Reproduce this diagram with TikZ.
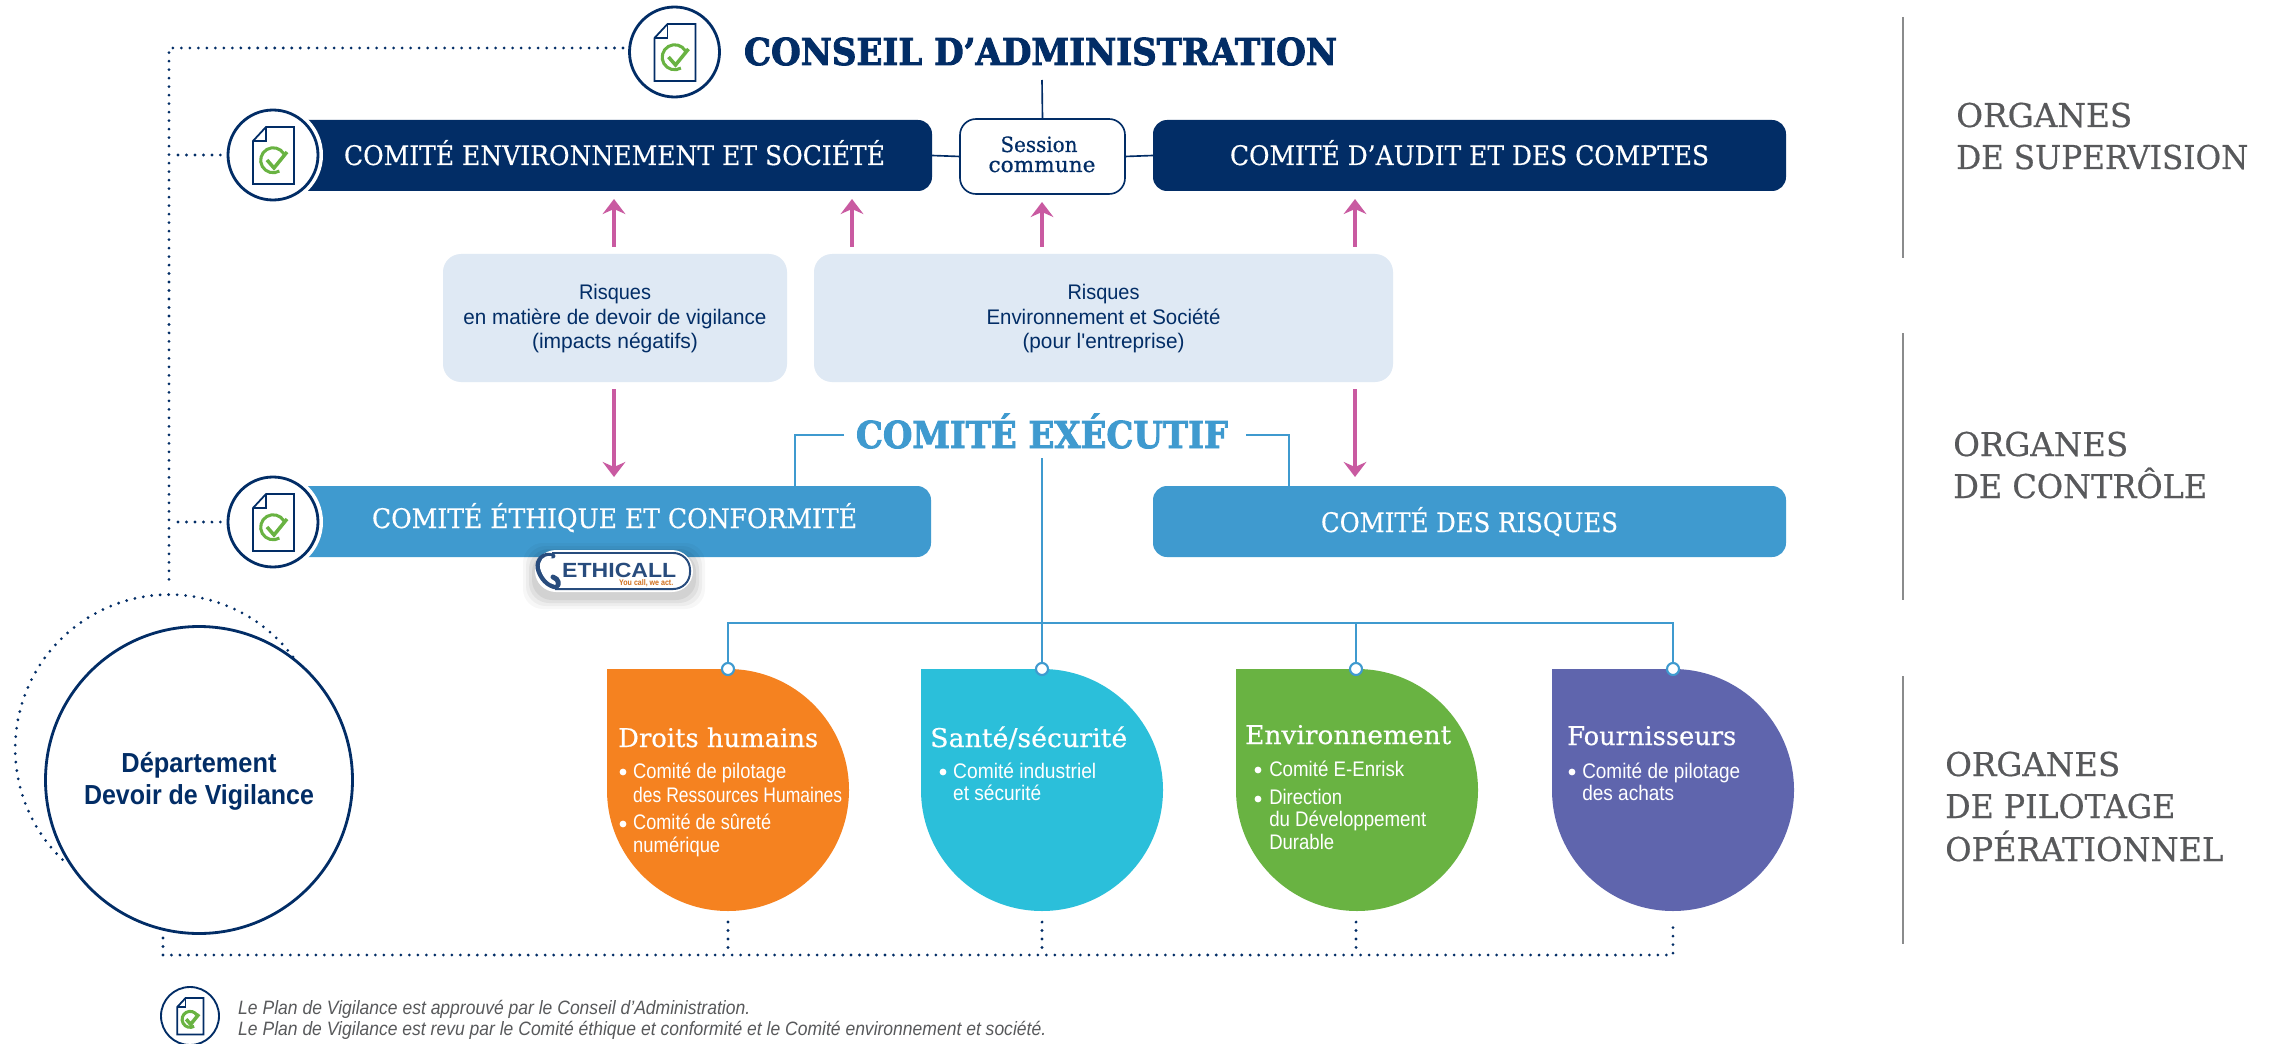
\documentclass[tikz,border=0pt]{standalone}
\usepackage{fontspec}
\usepackage{graphicx}
\usetikzlibrary{arrows.meta}
\newfontfamily\slab[FakeBold=0.5]{DejaVu Serif}
\newfontfamily\slabB[BoldFeatures={FakeBold=2.5}]{DejaVu Serif}
\newfontfamily\msans{Liberation Sans}
\newdimen\pxu \pxu=0.03cm
\newcommand\fit[2]{\resizebox{#1\pxu}{\height}{#2}}
\newcommand\sz[1]{\fontsize{#1}{#1}\selectfont}
\definecolor{navy}{HTML}{022D66}
\definecolor{midblue}{HTML}{3F9ACF}
\definecolor{lightb}{HTML}{DFE9F4}
\definecolor{pinkc}{HTML}{C95AA1}
\definecolor{greyt}{HTML}{58595B}
\definecolor{checkg}{HTML}{69B342}
\definecolor{orangec}{HTML}{F58220}
\definecolor{cyanc}{HTML}{2BBFDA}
\definecolor{purplec}{HTML}{5F65AD}
\tikzset{
  dotl/.style={navy,line width=2.6pt,line cap=round,dash pattern=on 0pt off 7.25pt},
  bluel/.style={midblue,line width=1.3pt},
  navyl/.style={navy,line width=1.4pt},
  pinkar/.style={pinkc,line width=2.6pt,-{Stealth[length=0.45cm,width=0.68cm,inset=0.15cm]},shorten <=0.21cm,shorten >=0.24cm},
  pinkdn/.style={pinkc,line width=2.6pt,-{Stealth[length=0.45cm,width=0.68cm,inset=0.15cm]},shorten <=0.21cm,shorten >=0.27cm},
  barbox/.style={rectangle,rounded corners=14\pxu,inner sep=0,outer sep=0,minimum width=#1\pxu,minimum height=71\pxu},
  lightbox/.style={rectangle,rounded corners=18\pxu,fill=lightb,inner sep=0,outer sep=0,minimum height=128\pxu,minimum width=#1\pxu},
  bart/.style={anchor=base,inner sep=0,text=white,font=\slab\sz{23}},
  rlab/.style={anchor=base west,inner sep=0,text=greyt,font=\slab\sz{28}},
  boxt/.style={anchor=base,inner sep=0,text=navy,font=\msans\sz{18}},
  sesst/.style={anchor=base,inner sep=0,text=navy,font=\slab\sz{18}},
  droph/.style={anchor=base west,inner sep=0,text=white,font=\slab\sz{22}},
  dropt/.style={anchor=base west,inner sep=0,text=white,font=\msans\sz{18}},
  ring/.style={circle,fill=white,inner sep=0,outer sep=0,minimum size=100\pxu},
  iconc/.style={circle,fill=white,draw=navy,line width=2.4pt,inner sep=0,outer sep=0,minimum size=90\pxu},
  dropdot/.style={circle,fill=white,draw=midblue,line width=1.8pt,inner sep=0,outer sep=0,minimum size=12\pxu},
  sep/.style={greyt!70,line width=1.2pt},
  docicon/.pic={
    \draw[navy,line width=1.5pt,fill=white,line join=miter] (-20,-14)--(-7,-28)--(21,-28)--(21,29)--(-20,29)--cycle;
    \draw[navy,line width=1.5pt] (-7,-28)--(-7,-14)--(-20,-14);
    \draw[checkg,line width=2.6pt] (11,-1) arc (-30:-300:12.5) ;
    \draw[checkg,line width=3pt] (-6,5)--(1,13)--(14,-3);
  }
}
\begin{document}
\begin{tikzpicture}[x=0.03cm,y=-0.03cm]
\useasboundingbox (0,0) rectangle (2271,1044);
\fill[white] (0,0) rectangle (2271,1044);

% bars and boxes
\node[barbox=659,fill=navy] (barE) at (602.5,155.5) {};
\node[barbox=633,fill=navy] (barA) at (1469.5,155.5) {};
\node[rectangle,rounded corners=16\pxu,draw=navy,line width=1.4pt,fill=white,minimum width=165\pxu,minimum height=75\pxu,inner sep=0,outer sep=0] (sess) at (1042.5,156.5) {};
\node[barbox=658,fill=midblue] (barC) at (602,521.5) {};
\node[barbox=633,fill=midblue] (barR) at (1469.5,521.5) {};
\node[lightbox=344] (risk1) at (615,318) {};
\node[lightbox=579] (risk2) at (1103.5,318) {};

% titles
\node[anchor=base,inner sep=0,text=navy,font=\slabB\bfseries\sz{31.6}] (conseil) at (1040.5,65) {\fit{593}{CONSEIL D’ADMINISTRATION}};
\node[anchor=base,inner sep=0,text=midblue,font=\slabB\bfseries\sz{31.6}] (cexec) at (1042,448) {\fit{372}{COMITÉ EXÉCUTIF}};
\node[bart] (tE) at (614.5,165) {\fit{541}{COMITÉ ENVIRONNEMENT ET SOCIÉTÉ}};
\node[bart] (tA) at (1469.5,165) {\fit{479}{COMITÉ D’AUDIT ET DES COMPTES}};
\node[bart] (tC) at (614.5,528) {\fit{485}{COMITÉ ÉTHIQUE ET CONFORMITÉ}};
\node[bart] (tR) at (1469.5,532) {\fit{297}{COMITÉ DES RISQUES}};
\node[sesst] (s1) at (1039,152) {\fit{77}{Session}};
\node[sesst] (s2) at (1042,172) {\fit{107}{commune}};

% light box texts
\node[boxt] (r1a) at (615,300) {\fit{72}{Risques}};
\node[boxt] (r1b) at (615,324) {\fit{303}{en matière de devoir de vigilance}};
\node[boxt] (r1c) at (615,348) {\fit{166}{(impacts négatifs)}};
\node[boxt] (r2a) at (1103.5,300) {\fit{72}{Risques}};
\node[boxt] (r2b) at (1103.5,324) {\fit{234}{Environnement et Société}};
\node[boxt] (r2c) at (1103.5,348) {\fit{162}{(pour l'entreprise)}};

% solid connectors
\coordinate (cTop) at (1042,80);
\draw[navyl] (cTop) -- (sess.north);
\draw[navyl] (barE.east) -- (sess.west);
\draw[navyl] (sess.east) -- (barA.west);

% pink arrows
\coordinate (a1) at (614,254);
\coordinate (a2) at (852,254);
\coordinate (a3) at (1042,254);
\coordinate (a4) at (1355,254);
\draw[pinkar] (a1) -- (a1 |- barE.south);
\draw[pinkar] (a2) -- (a2 |- barE.south);
\draw[pinkar] (a3) -- (a3 |- sess.south);
\draw[pinkar] (a4) -- (a4 |- barA.south);
\coordinate (b1) at (614,382);
\coordinate (b4) at (1355,382);
\draw[pinkdn] (b1) -- (b1 |- barC.north);
\draw[pinkdn] (b4) -- (b4 |- barR.north);

% dept circle and dotted lines
\coordinate (corner) at (169,48);
\coordinate (vend) at (169,583);
\draw[dotl] (293,657) arc (-36.5:-228.7:154);
\node[circle,draw=navy,line width=2.4pt,fill=white,minimum size=307\pxu,inner sep=0,outer sep=0] (dept) at (199,780) {};
\node[anchor=base,inner sep=0,text=navy,font=\msans\bfseries\sz{23.5}] (d1) at (199,772) {\fit{155}{Département}};
\node[anchor=base,inner sep=0,text=navy,font=\msans\bfseries\sz{23.5}] (d2) at (199,804) {\fit{230}{Devoir de Vigilance}};

% icons
\node[ring] (r1) at (273,155) {};
\node[ring] (r2) at (273,522) {};
\node[iconc] (icC) at (674.5,52) {};
\node[iconc] (icE) at (273,155) {};
\node[iconc] (icK) at (273,522) {};
\pic at (674.5,52) {docicon};
\pic at (273,155) {docicon};
\pic at (273,522) {docicon};

\coordinate (c1) at (178,155);
\coordinate (c2) at (178,522);
\coordinate (cc) at (623,48);
\draw[dotl] (cc) -- (corner) -- (vend);
\draw[dotl] (c1) -- ([xshift=-0.18cm]icE.west);
\draw[dotl] (c2) -- ([xshift=-0.18cm]icK.west);

% Ethicall
\foreach \g/\o in {12/0.03,9/0.04,6/0.05,3/0.06}{
  \fill[black,opacity=\o,rounded corners=0.6cm] (535-\g,550+5-\g) rectangle (693+\g,592+5+\g);
}
\node[rectangle,rounded corners=21\pxu,fill=white,inner sep=0,outer sep=0,minimum width=158\pxu,minimum height=42\pxu] (eth) at (614,571) {};
\draw[navy!85,line width=1.7pt,rounded corners=0.5cm] (552,553) -- (690,553) -- (690,589) -- (555,589);
\draw[navy!85,line width=4.2pt,line cap=round,line join=round] (553,556) .. controls (543,553) and (537,560) .. (538,568) .. controls (540,578) and (548,586) .. (556,587) .. controls (560,585) and (559,579) .. (553,577);
\draw[white,line width=1.5pt,line cap=round] (551,557) .. controls (544,556) and (540,561) .. (541,568) .. controls (543,576) and (549,583) .. (555,584);
\node[anchor=base west,inner sep=0,text=navy!85,font=\msans\bfseries\sz{17.5}] (ethT) at (562,577) {\fit{114}{ETHICALL}};
\node[anchor=base west,inner sep=0,text=orangec!85!black,font=\msans\bfseries\sz{7}] (ethS) at (619,585) {\fit{54}{You call, we act.}};

% drops
\newcommand\dropshape[2]{\fill[#2] (#1-121,669) -- (#1,669) arc (-90:180:121) -- cycle;}
\dropshape{728}{orangec}
\dropshape{1042}{cyanc}
\dropshape{1357}{checkg}
\dropshape{1673}{purplec}
\node[dropdot] (dot1) at (728,669) {};
\node[dropdot] (dot2) at (1042,669) {};
\node[dropdot] (dot3) at (1356,669) {};
\node[dropdot] (dot4) at (1673,669) {};

% executive lines
\coordinate (eL) at (844,435);
\coordinate (eM) at (795,435);
\coordinate (eR) at (1246,435);
\coordinate (eN) at (1289,435);
\draw[bluel] (eL) -- (eM) -- (eM |- barC.north);
\draw[bluel] (eR) -- (eN) -- (eN |- barR.north);
\coordinate (bus1) at (728,623);
\coordinate (bus4) at (1673,623);
\coordinate (eS) at (1042,458);
\draw[bluel] (eS) -- (dot2.north);
\draw[bluel] (dot1.north) -- (bus1) -- (bus4) -- (dot4.north);
\draw[bluel] (dot3 |- bus1) -- (dot3.north);

% drop text
\node[droph] (h1) at (618,747) {\fit{200}{Droits humains}};
\node[droph] (h2) at (930,747) {\fit{197}{Santé/sécurité}};
\node[droph] (h3) at (1245,744) {\fit{206}{Environnement}};
\node[droph] (h4) at (1567,745) {\fit{169}{Fournisseurs}};
\node[dropt] (t1a) at (633,778) {\fit{153}{Comité de pilotage}};
\node[dropt] (t1b) at (633,802) {\fit{209}{des Ressources Humaines}};
\node[dropt] (t1c) at (633,829) {\fit{138}{Comité de sûreté}};
\node[dropt] (t1d) at (633,852) {\fit{87}{numérique}};
\node[dropt] (t2a) at (953,778) {\fit{143}{Comité industriel}};
\node[dropt] (t2b) at (953,800) {\fit{88}{et sécurité}};
\node[dropt] (t3a) at (1269,776) {\fit{135}{Comité E-Enrisk}};
\node[dropt] (t3b) at (1269,804) {\fit{73}{Direction}};
\node[dropt] (t3c) at (1269,826) {\fit{157}{du Développement}};
\node[dropt] (t3d) at (1269,849) {\fit{65}{Durable}};
\node[dropt] (t4a) at (1582,778) {\fit{158}{Comité de pilotage}};
\node[dropt] (t4b) at (1582,800) {\fit{92}{des achats}};
\foreach \bx/\by in {623/772,623/824,943/772,1258/770,1258/799,1572/772}{
  \fill[white] (\bx,\by) circle (3.4);
}

% bottom dotted
\coordinate (bl) at (163,955);
\coordinate (br) at (1673,955);
\coordinate (bt) at (163,938);
\coordinate (bz) at (1673,922);
\draw[dotl] (bt) -- (bl) -- (br) -- (bz);
\foreach \vx in {728,1042,1356}{
  \draw[dotl] (\vx,922) -- (\vx,950);
}

% right column
\draw[sep] (1903,17) -- (1903,258);
\draw[sep] (1903,333) -- (1903,600);
\draw[sep] (1903,676) -- (1903,944);
\node[rlab] (o1) at (1956,127) {\fit{176}{ORGANES}};
\node[rlab] (o2) at (1956,169) {\fit{292}{DE SUPERVISION}};
\node[rlab] (o3) at (1953,456) {\fit{175}{ORGANES}};
\node[rlab] (o4) at (1953,498) {\fit{254}{DE CONTRÔLE}};
\node[rlab] (o5) at (1945,776) {\fit{175}{ORGANES}};
\node[rlab] (o6) at (1945,818) {\fit{230}{DE PILOTAGE}};
\node[rlab] (o7) at (1945,861) {\fit{278}{OPÉRATIONNEL}};

% footnote
\node[circle,draw=navy,line width=1.6pt,fill=white,minimum size=58\pxu,inner sep=0,outer sep=0] (icF) at (190,1016) {};
\pic[scale=0.64] at (190,1016) {docicon};
\node[anchor=base west,inner sep=0,text=greyt,font=\msans\itshape\sz{16.5}] (f1) at (238,1014) {\fit{512}{Le Plan de Vigilance est approuvé par le Conseil d’Administration.}};
\node[anchor=base west,inner sep=0,text=greyt,font=\msans\itshape\sz{16.5}] (f2) at (238,1035) {\fit{808}{Le Plan de Vigilance est revu par le Comité éthique et conformité et le Comité environnement et société.}};
\end{tikzpicture}
\end{document}
